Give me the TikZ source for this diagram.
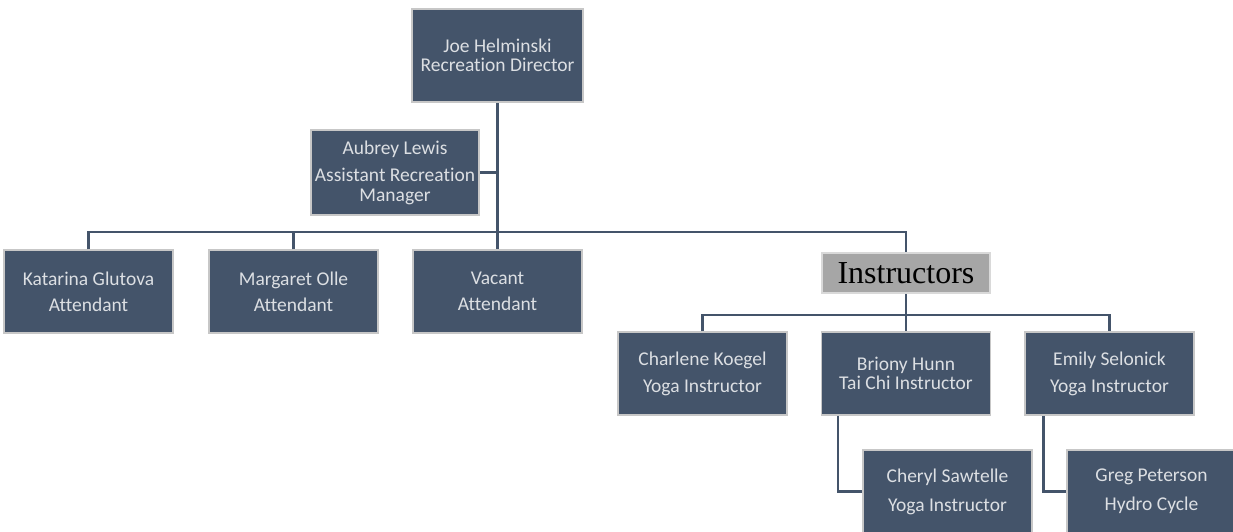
\documentclass[tikz,border=0pt]{standalone}
\usepackage{fontspec}
\setmainfont{Carlito}[Ligatures=NoCommon]
\newfontfamily\headfont{Liberation Serif}
\begin{document}
\begin{tikzpicture}[x=1pt,y=-1pt,
  person/.style={draw=black!22, line width=1.5pt, fill=boxfill, text=boxtext,
    minimum width=169pt, minimum height=83pt, inner sep=0pt, align=center,
    font=\fontsize{19.5}{20}\selectfont},
  group/.style={draw=black!15, line width=1.5pt, fill=black!35,
    minimum width=168pt, minimum height=40pt, inner sep=0pt,
    font=\headfont\fontsize{32}{34}\selectfont},
  link/.style={draw=boxfill, line width=2.5pt}]
\definecolor{boxfill}{HTML}{44546A}
\definecolor{boxtext}{HTML}{DCDFE3}
\clip (0,0) rectangle (1233,531);
\useasboundingbox (0,0) rectangle (1233,531);

% top of the tree
\node[person, minimum width=171pt, minimum height=93pt] (joe) at (497.5,55.5)
  {Joe Helminski\\[-1pt]Recreation Director};
\node[person, minimum width=168pt, minimum height=85pt] (aubrey) at (395,172.5)
  {Aubrey Lewis\\[7pt]Assistant Recreation\\Manager};

% attendants
\node[person] (katarina) at (88.5,291.5) {Katarina Glutova\\[6pt]Attendant};
\node[person] (margaret) at (293.5,291.5) {Margaret Olle\\[6pt]Attendant};
\node[person] (vacant) at (497.5,291.5) {Vacant\\[6pt]Attendant};

% instructors group
\node[group] (instr) at (906,273) {Instructors};
\node[person] (charlene) at (702.5,373.5) {Charlene Koegel\\[7pt]Yoga Instructor};
\node[person] (briony) at (906,373.5) {Briony Hunn\\[-1pt]Tai Chi Instructor};
\node[person] (emily) at (1109.5,373.5) {Emily Selonick\\[7pt]Yoga Instructor};
\node[person] (cheryl) at (947.5,491.5) {Cheryl Sawtelle\\[9pt]Yoga Instructor};
\node[person] (greg) at (1151.5,491.5) {Greg Peterson\\[9pt]Hydro Cycle};

% bus lines
\coordinate (bus) at (0,232);
\coordinate (subbus) at (0,315);

% connectors
\draw[link] (joe.south) -- (vacant.north);
\draw[link] (aubrey.east) -- (joe.south |- aubrey.east);
\draw[link] (katarina.north) -- (katarina.north |- bus) -| (instr.north);
\draw[link] (margaret.north) -- (margaret.north |- bus);
\draw[link] (instr.south) -- (briony.north);
\draw[link] (charlene.north) -- (charlene.north |- subbus) -| (emily.north);
\draw[link] ([xshift=-68pt]briony.south) |- (cheryl.west);
\draw[link] ([xshift=-66pt]emily.south) |- (greg.west);
\end{tikzpicture}
\end{document}
